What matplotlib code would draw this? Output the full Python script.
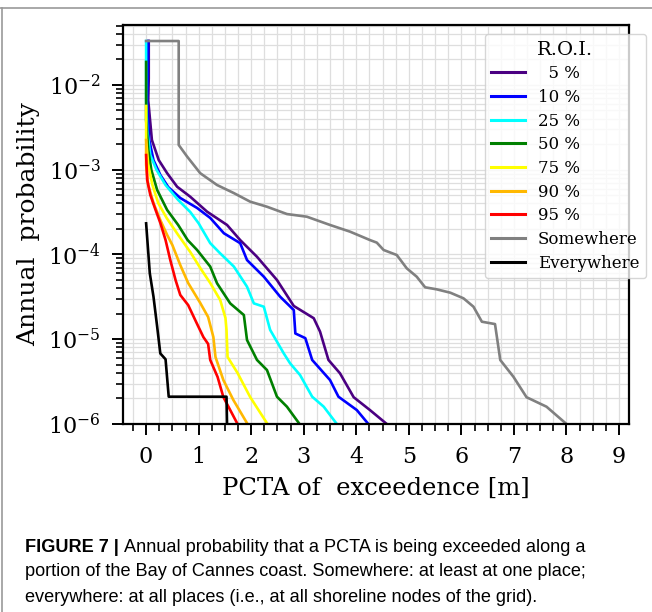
import matplotlib
matplotlib.use("Agg")
import matplotlib.pyplot as plt
from matplotlib.ticker import MultipleLocator, LogLocator, NullFormatter
from matplotlib.lines import Line2D

plt.rcParams["font.family"] = "DejaVu Serif"
plt.rcParams["mathtext.fontset"] = "dejavuserif"

labels = ["  5 %", "10 %", "25 %", "50 %", "75 %", "90 %", "95 %", "Somewhere", "Everywhere"]
colors = ["#4B0082", "blue", "cyan", "green", "yellow", "#FFB800", "red", "gray", "black"]

# PCTA [m] / annual probability
x_5 = [0.05, 0.05, 0.04, 0.11, 0.24, 0.40, 0.59, 0.84, 1.16, 1.54, 1.79, 2.11, 2.49, 2.81, 3.19, 3.31, 3.47, 3.69, 3.95, 4.26, 4.58]
p_5 = [3.3e-2, 1.2e-2, 6.6e-3, 2.24e-3, 1.30e-3, 9.1e-4, 6.3e-4, 4.8e-4, 3.2e-4, 2.23e-4, 1.48e-4, 9.4e-5, 5.0e-5, 2.47e-5, 1.77e-5, 1.23e-5, 5.7e-6, 3.96e-6, 2.07e-6, 1.46e-6, 1.0e-6]

x_10 = [0.04, 0.03, 0.02, 0.06, 0.14, 0.27, 0.42, 0.65, 0.97, 1.22, 1.48, 1.79, 1.92, 2.24, 2.55, 2.81, 2.84, 3.03, 3.16, 3.50, 3.66, 4.01, 4.23]
p_10 = [3.3e-2, 1.2e-2, 6.6e-3, 2.24e-3, 1.30e-3, 8.7e-4, 6.25e-4, 4.64e-4, 3.54e-4, 2.7e-4, 1.78e-4, 1.36e-4, 8.6e-5, 5.47e-5, 3.18e-5, 2.21e-5, 1.17e-5, 1.03e-5, 5.7e-6, 3.3e-6, 2.1e-6, 1.46e-6, 1.0e-6]

x_25 = [0, 0, 0.02, 0.08, 0.20, 0.37, 0.61, 0.84, 1.0, 1.22, 1.41, 1.67, 1.92, 2.05, 2.24, 2.36, 2.62, 2.74, 2.93, 3.16, 3.38, 3.63]
p_25 = [3.3e-2, 6.6e-3, 2.94e-3, 1.49e-3, 9.9e-4, 6.6e-4, 4.4e-4, 3.17e-4, 2.33e-4, 1.36e-4, 1.03e-4, 7.2e-5, 4.17e-5, 2.65e-5, 2.42e-5, 1.29e-5, 6.8e-6, 5.2e-6, 3.78e-6, 2.1e-6, 1.6e-6, 1.0e-6]

x_50 = [0, 0, 0.04, 0.10, 0.21, 0.40, 0.61, 0.79, 0.97, 1.22, 1.35, 1.60, 1.86, 1.92, 2.11, 2.30, 2.49, 2.68, 2.92]
p_50 = [1.87e-2, 3.86e-3, 1.71e-3, 9.9e-4, 5.77e-4, 3.35e-4, 2.23e-4, 1.48e-4, 1.13e-4, 7.2e-5, 4.57e-5, 2.65e-5, 1.93e-5, 9.8e-6, 5.7e-6, 4.33e-6, 2.1e-6, 1.6e-6, 1.0e-6]

x_75 = [0, 0, 0.04, 0.12, 0.23, 0.39, 0.61, 0.84, 1.03, 1.22, 1.41, 1.51, 1.53, 1.55, 1.74, 1.98, 2.31]
p_75 = [5.65e-3, 2.24e-3, 1.14e-3, 6.6e-4, 4.05e-4, 2.7e-4, 1.7e-4, 1.07e-4, 6.93e-5, 4.61e-5, 2.9e-5, 1.78e-5, 1.29e-5, 6.18e-6, 4.0e-6, 2.08e-6, 1.0e-6]

x_90 = [0, 0, 0.04, 0.14, 0.27, 0.40, 0.50, 0.65, 0.80, 1.03, 1.18, 1.28, 1.32, 1.47, 1.66, 1.93]
p_90 = [2.24e-3, 1.14e-3, 6.6e-4, 4.05e-4, 2.55e-4, 1.7e-4, 1.29e-4, 7.5e-5, 4.61e-5, 2.68e-5, 1.83e-5, 1.06e-5, 6.18e-6, 3.3e-6, 1.92e-6, 1.0e-6]

x_95 = [0, 0.02, 0.08, 0.18, 0.27, 0.37, 0.46, 0.56, 0.65, 0.80, 0.96, 1.09, 1.18, 1.22, 1.36, 1.47, 1.74]
p_95 = [1.49e-3, 7.57e-4, 5.04e-4, 3.35e-4, 2.36e-4, 1.48e-4, 8.6e-5, 5.0e-5, 3.33e-5, 2.53e-5, 1.56e-5, 1.06e-5, 8.8e-6, 5.7e-6, 3.59e-6, 2.08e-6, 1.0e-6]

x_some = [0, 0.62, 0.62, 0.78, 1.03, 1.35, 1.67, 1.98, 2.30, 2.68, 3.06, 3.50, 3.88, 4.26, 4.39, 4.52, 4.77, 4.96, 5.15, 5.31, 5.53, 5.79, 6.04, 6.23, 6.39, 6.64, 6.74, 6.99, 7.24, 7.62, 8.00]
p_some = [3.3e-2, 3.3e-2, 1.96e-3, 1.43e-3, 9.1e-4, 6.6e-4, 5.3e-4, 4.2e-4, 3.66e-4, 3.0e-4, 2.79e-4, 2.23e-4, 1.86e-4, 1.48e-4, 1.38e-4, 1.13e-4, 9.86e-5, 6.87e-5, 5.47e-5, 4.1e-5, 3.88e-5, 3.54e-5, 3.04e-5, 2.42e-5, 1.61e-5, 1.51e-5, 5.69e-6, 3.61e-6, 2.07e-6, 1.6e-6, 1.0e-6]

x_every = [0, 0.07, 0.14, 0.21, 0.27, 0.37, 0.43, 1.53, 1.54]
p_every = [2.33e-4, 6.0e-5, 3.18e-5, 1.41e-5, 6.8e-6, 5.8e-6, 2.1e-6, 2.1e-6, 1.0e-6]

xs = [x_5, x_10, x_25, x_50, x_75, x_90, x_95, x_some, x_every]
ps = [p_5, p_10, p_25, p_50, p_75, p_90, p_95, p_some, p_every]

caption_bold = "FIGURE 7 | "
caption_lines = [
    "Annual probability that a PCTA is being exceeded along a",
    "portion of the Bay of Cannes coast. Somewhere: at least at one place;",
    "everywhere: at all places (i.e., at all shoreline nodes of the grid).",
]

W, H = 652, 612
fig = plt.figure(figsize=(W / 100, H / 100), dpi=100)
ax = fig.add_axes([123 / W, 1 - 424 / H, (629 - 123) / W, (424 - 25) / H])

for x, p, c, lab in zip(xs, ps, colors, labels):
    ax.plot(x, p, color=c, lw=1.9, label=lab)

ax.set_yscale("log")
ax.set_xlim(-0.44, 9.19)
ax.set_ylim(1e-6, 5.1e-2)
ax.xaxis.set_major_locator(MultipleLocator(1))
ax.xaxis.set_minor_locator(MultipleLocator(0.25))
ax.yaxis.set_major_locator(LogLocator(base=10, numticks=10))
ax.yaxis.set_minor_locator(LogLocator(base=10, subs=range(2, 10), numticks=20))
ax.yaxis.set_minor_formatter(NullFormatter())
ax.grid(True, which="both", color="#dedede", lw=0.9)
ax.set_axisbelow(True)
ax.tick_params(which="major", length=8, width=1.4, labelsize=16, pad=8)
ax.tick_params(which="minor", length=5, width=1.2)
for s in ax.spines.values():
    s.set_linewidth(1.6)

ax.set_xlabel("PCTA of  exceedence [m]", fontsize=17.5, labelpad=6)
ax.set_ylabel("Annual  probability", fontsize=18, labelpad=6)

leg = ax.legend(loc="upper right", bbox_to_anchor=(646 / W, 1 - 34 / H),
                bbox_transform=fig.transFigure, title="R.O.I.", fontsize=12,
                title_fontsize=14, handlelength=2.0, handletextpad=0.8,
                labelspacing=0.4, borderaxespad=0)
for h in leg.get_lines():
    h.set_linewidth(2.2)

# caption
cap_font = {"family": "Liberation Sans", "size": 13.1}
t = fig.text(25 / W, 1 - 548 / H, caption_bold, fontweight="bold", va="center", **cap_font)
fig.canvas.draw()
bb = t.get_window_extent()
fig.text(bb.x1 / W, 1 - 548 / H, caption_lines[0], va="center", **cap_font)
fig.text(25 / W, 1 - 572 / H, caption_lines[1], va="center", **cap_font)
fig.text(25 / W, 1 - 597 / H, caption_lines[2], va="center", **cap_font)

# figure frame
fig.add_artist(Line2D([0, 1], [1 - 8 / H, 1 - 8 / H], color="#9a9a9a", lw=1.2, transform=fig.transFigure))
fig.add_artist(Line2D([1.5 / W, 1.5 / W], [0, 1 - 8 / H], color="#9a9a9a", lw=1.2, transform=fig.transFigure))

fig.savefig("out.png", dpi=100)
